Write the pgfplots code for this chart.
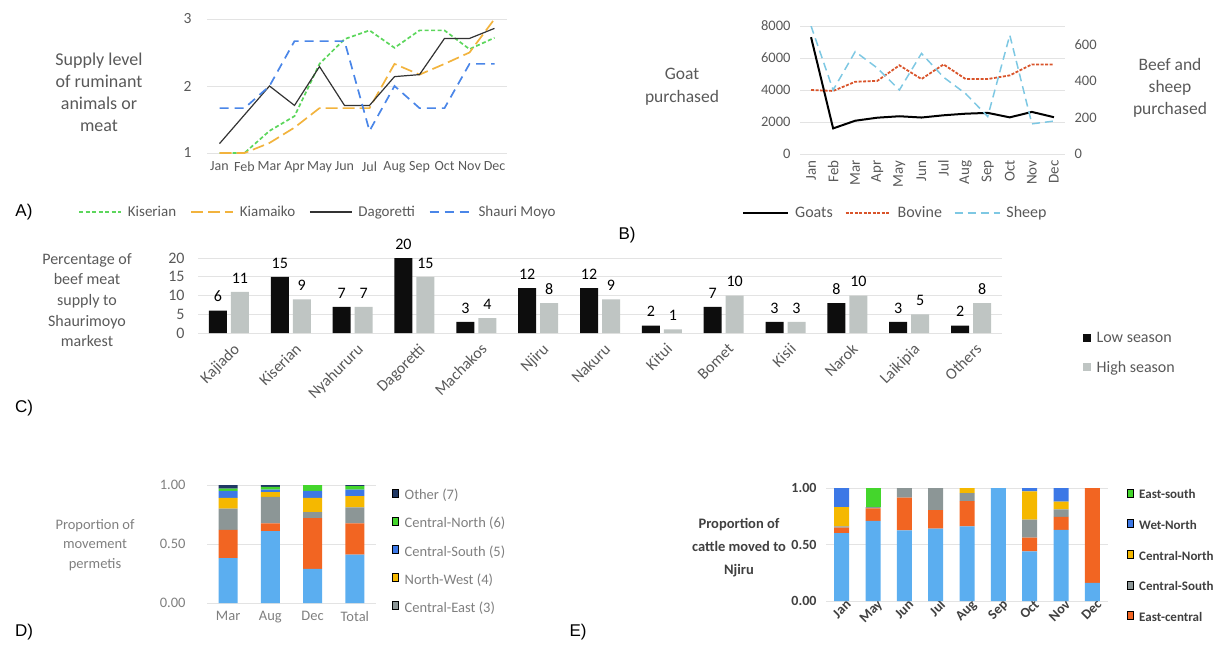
\documentclass[border=0pt]{standalone}
\usepackage{fontspec}
\setmainfont{Carlito}
\newfontfamily\arial{Liberation Sans}
\usepackage{pgfplots}
\pgfplotsset{compat=1.18}
\usepackage{pgfplotstable}

\definecolor{labc}{HTML}{595959}
\definecolor{gridc}{HTML}{E3E3E3}
\definecolor{kis}{HTML}{5CD65C}
\definecolor{kia}{HTML}{F2B33D}
\definecolor{dag}{HTML}{333333}
\definecolor{sha}{HTML}{4A86E8}
\definecolor{bov}{HTML}{D9542B}
\definecolor{shp}{HTML}{7EC8E3}
\definecolor{lowc}{HTML}{0D0D0D}
\definecolor{highc}{HTML}{BFC5C3}
\definecolor{c1}{HTML}{5BAEF0}
\definecolor{c2}{HTML}{F26522}
\definecolor{c3}{HTML}{8C9696}
\definecolor{c4}{HTML}{F5B800}
\definecolor{c5}{HTML}{3C78E6}
\definecolor{c6}{HTML}{44D62C}
\definecolor{c7}{HTML}{1F3864}
\definecolor{dtext}{HTML}{7F7F7F}
\definecolor{etext}{HTML}{404040}

% panel A: supply level by month
\pgfplotstableread{
m kis kia dag sha
0 1 1 1.14 1.67
1 1 1 1.57 1.67
2 1.33 1.15 2.0 2.0
3 1.55 1.38 1.71 2.67
4 2.33 1.67 2.29 2.67
5 2.7 1.67 1.71 2.67
6 2.83 1.67 1.71 1.33
7 2.57 2.33 2.14 2.0
8 2.83 2.17 2.17 1.67
9 2.83 2.33 2.71 1.67
10 2.55 2.5 2.71 2.33
11 2.72 3.0 2.86 2.33
}\tabA

% panel B: animals purchased
\pgfplotstableread{
m goat bov sheep
0 7300 350 700
1 1600 345 350
2 2080 395 560
3 2270 400 470
4 2360 485 350
5 2280 410 550
6 2420 490 420
7 2520 410 330
8 2570 410 205
9 2290 430 650
10 2630 490 165
11 2300 490 180
}\tabB

% panel C: beef supply by origin
\pgfplotstableread{
c low high
0 6 11
1 15 9
2 7 7
3 20 15
4 3 4
5 12 8
6 12 9
7 2 1
8 7 10
9 3 3
10 8 10
11 3 5
12 2 8
}\tabC

% panel D: movement permits
\pgfplotstableread{
x s1 s2 s3 s4 s5 s6 s7
0 0.38 0.24 0.18 0.09 0.06 0.02 0.03
1 0.61 0.065 0.225 0.04 0.02 0.025 0.015
2 0.29 0.43 0.05 0.12 0.06 0.05 0.0
3 0.41 0.265 0.135 0.095 0.055 0.03 0.01
}\tabD

% panel E: cattle moved to Njiru
\pgfplotstableread{
x s1 s2 s3 s4 s5 s6
0 0.60 0.05 0.01 0.17 0.17 0
1 0.71 0.11 0.01 0 0 0.17
2 0.625 0.29 0.085 0 0 0
3 0.64 0.165 0.195 0 0 0
4 0.66 0.225 0.07 0.045 0 0
5 1 0 0 0 0 0
6 0.44 0.12 0.16 0.25 0.03 0
7 0.63 0.115 0.065 0.07 0.12 0
8 0.16 0.84 0 0 0 0
}\tabE

\newcommand{\fs}[1]{\fontsize{#1}{#1}\selectfont}
\pgfplotsset{
  base/.style={scale only axis, anchor=south west,
    axis line style={draw=none}, major tick style={draw=none},
    ymajorgrids, grid style={draw=gridc, line width=0.8pt},
    tick label style={text=labc, font=\fs{14}},
    /pgf/number format/assume math mode=true,
    /pgf/number format/1000 sep={},
    legend style={draw=none, fill=none, inner sep=0pt, text=labc, font=\fs{16}},
    legend cell align=left},
  ybar legend/.style={legend image code/.code={\path[##1, draw=none] (0pt,-4pt) rectangle (8pt,4pt);}},
  prop/.style={/pgf/number format/fixed, /pgf/number format/fixed zerofill,
    /pgf/number format/precision=2},
}

\begin{document}
\begin{tikzpicture}
\useasboundingbox (0,0) rectangle (1217pt,-648pt);

% ---------------- A ----------------
\begin{axis}[base, at={(207pt,-153pt)}, width=300pt, height=134pt,
  legend image code/.code={\draw[#1] (0pt,0pt) -- (42pt,0pt);},
  xmin=-0.5, xmax=11.5, ymin=1, ymax=3, ytick={1,2,3},
  xtick={0,...,11}, xticklabels={Jan,Feb,Mar,Apr,May,Jun,Jul,Aug,Sep,Oct,Nov,Dec},
  tick label style={font=\fs{15.5}},
  xticklabel style={yshift=-5pt, font=\fs{14}}, yticklabel style={xshift=-12pt},
  legend columns=4,
  legend style={at={(-0.43,-0.44)}, anchor=west, font=\fs{15},
    /tikz/every odd column/.style={column sep=4pt},
    /tikz/every even column/.style={column sep=12pt}}]
\addplot[kis, line width=1.7pt, dash pattern=on 4pt off 2.5pt] table[x=m,y=kis] {\tabA};
\addlegendentry{Kiserian}
\addplot[kia, line width=1.7pt, dash pattern=on 12pt off 5pt] table[x=m,y=kia] {\tabA};
\addlegendentry{Kiamaiko}
\addplot[dag, line width=1.2pt] table[x=m,y=dag] {\tabA};
\addlegendentry{Dagoretti}
\addplot[sha, line width=1.7pt, dash pattern=on 9pt off 6pt] table[x=m,y=sha] {\tabA};
\addlegendentry{Shauri Moyo}
\end{axis}
\node[align=center, text=labc, font=\fontsize{18}{22}\selectfont] at (99pt,-92pt) {Supply level\\of ruminant\\animals or\\meat};
\node[font=\arial\fs{17}] at (24pt,-212pt) {A)};

% ---------------- B ----------------
\begin{axis}[base, at={(800pt,-154pt)}, width=265pt, height=128pt,
  xmin=-0.5, xmax=11.5, ymin=0, ymax=8000, ytick={0,2000,...,8000},
  xtick={0,...,11}, xticklabels={Jan,Feb,Mar,Apr,May,Jun,Jul,Aug,Sep,Oct,Nov,Dec},
  tick label style={font=\fs{14.5}},
  xticklabel style={rotate=90, anchor=east, xshift=-3pt, font=\fs{15}}, yticklabel style={xshift=-6pt}]
\addplot[black, line width=2pt] table[x=m,y=goat] {\tabB};
\end{axis}
\begin{axis}[base, at={(800pt,-154pt)}, width=265pt, height=128pt,
  legend image code/.code={\draw[#1] (0pt,0pt) -- (45pt,0pt);},
  xmin=-0.5, xmax=11.5, ymin=0, ymax=700, ytick={0,200,400,600},
  tick label style={font=\fs{14.5}},
  ymajorgrids=false, axis y line*=right, axis x line=none, yticklabel style={xshift=6pt},
  legend columns=3,
  legend style={at={(-0.219,-0.461)}, anchor=west, /tikz/every odd column/.style={column sep=4pt},
    /tikz/every even column/.style={column sep=10pt}}]
\addlegendimage{black, line width=2pt}
\addlegendentry{Goats}
\addplot[bov, line width=1.8pt, dash pattern=on 3pt off 1.5pt] table[x=m,y=bov] {\tabB};
\addlegendentry{Bovine}
\addplot[shp, line width=1.5pt, dash pattern=on 8pt off 5pt] table[x=m,y=sheep] {\tabB};
\addlegendentry{Sheep}
\end{axis}
\node[align=center, text=labc, font=\fontsize{17.5}{23}\selectfont] at (682pt,-87pt) {Goat\\purchased};
\node[align=center, text=labc, font=\fontsize{17.5}{22}\selectfont] at (1170pt,-88pt) {Beef and\\sheep\\purchased};
\node[font=\arial\fs{17}] at (627pt,-235pt) {B)};

% ---------------- C ----------------
\begin{axis}[base, at={(198pt,-333pt)}, width=804pt, height=75pt,
  ybar=4pt, bar width=18pt, xmin=-0.5, xmax=12.5, ymin=0, ymax=20, ytick={0,5,...,20},
  xtick={0,...,12},
  xticklabels={Kajiado,Kiserian,Nyahururu,Dagoretti,Machakos,Njiru,Nakuru,Kitui,Bomet,Kisii,Narok,Laikipia,Others},
  tick label style={font=\fs{16}},
  xticklabel style={rotate=45, anchor=north east, inner sep=1pt, xshift=0pt, yshift=-5pt, font=\fs{16}},
  yticklabel style={xshift=-10pt},
  nodes near coords, every node near coord/.append style={font=\fs{16}, text=black, yshift=5pt},
  legend style={at={(1.10,0.04)}, anchor=north west,
    /tikz/every odd column/.style={column sep=4pt}, row sep=13pt}]
\addplot[fill=lowc, draw=none] table[x=c,y=low] {\tabC};
\addlegendentry{Low season}
\addplot[fill=highc, draw=none] table[x=c,y=high] {\tabC};
\addlegendentry{High season}
\end{axis}
\node[align=center, text=labc, font=\fontsize{16}{20.7}\selectfont] at (87pt,-300pt) {Percentage of\\beef meat\\supply to\\Shaurimoyo\\markest};
\node[font=\arial\fs{17}] at (24pt,-408pt) {C)};

% ---------------- D ----------------
\begin{axis}[base, prop, at={(207pt,-603pt)}, width=169pt, height=118pt,
  ybar stacked, bar width=19pt, xmin=-0.5, xmax=3.5, ymin=0, ymax=1, ytick={0,0.5,1},
  xtick={0,...,3}, xticklabels={Mar,Aug,Dec,Total},
  tick label style={font=\fs{14.5}, text=dtext},
  xticklabel style={yshift=-5pt}, yticklabel style={xshift=-18pt},
  reverse legend,
  legend style={at={(1.095,0.983)}, anchor=north west, font=\fs{14.5}, text=dtext,
    /tikz/every odd column/.style={column sep=4pt}, row sep=12pt}]
\addplot[fill=c1, draw=none, forget plot] table[x=x,y=s1] {\tabD};
\addplot[fill=c2, draw=none, forget plot] table[x=x,y=s2] {\tabD};
\addplot[fill=c3, draw=none] table[x=x,y=s3] {\tabD};
\addlegendentry{Central-East (3)}
\addplot[fill=c4, draw=none] table[x=x,y=s4] {\tabD};
\addlegendentry{North-West (4)}
\addplot[fill=c5, draw=none] table[x=x,y=s5] {\tabD};
\addlegendentry{Central-South (5)}
\addplot[fill=c6, draw=none] table[x=x,y=s6] {\tabD};
\addlegendentry{Central-North (6)}
\addplot[fill=c7, draw=none] table[x=x,y=s7] {\tabD};
\addlegendentry{Other (7)}
\end{axis}
\node[align=center, text=dtext, font=\fontsize{14.5}{19.5}\selectfont] at (95pt,-545pt) {Proportion of\\movement\\permetis};
\node[font=\arial\fs{17}] at (24pt,-632pt) {D)};

% ---------------- E ----------------
\begin{axis}[base, prop, at={(826pt,-601pt)}, width=282pt, height=113pt,
  ybar stacked, bar width=15pt, xmin=-0.5, xmax=8.5, ymin=0, ymax=1, ytick={0,0.5,1},
  xtick={0,...,8}, xticklabels={Jan,May,Jun,Jul,Aug,Sep,Oct,Nov,Dec},
  tick label style={font=\bfseries\fs{14}, text=etext},
  xticklabel style={rotate=45, anchor=north east, inner sep=1pt, xshift=5pt},
  yticklabel style={xshift=-6pt},
  reverse legend,
  legend style={at={(1.066,1.005)}, anchor=north west, font=\bfseries\fs{13}, text=etext,
    /tikz/every odd column/.style={column sep=4pt}, row sep=16pt}]
\addplot[fill=c1, draw=none, forget plot] table[x=x,y=s1] {\tabE};
\addplot[fill=c2, draw=none] table[x=x,y=s2] {\tabE};
\addlegendentry{East-central}
\addplot[fill=c3, draw=none] table[x=x,y=s3] {\tabE};
\addlegendentry{Central-South}
\addplot[fill=c4, draw=none] table[x=x,y=s4] {\tabE};
\addlegendentry{Central-North}
\addplot[fill=c5, draw=none] table[x=x,y=s5] {\tabE};
\addlegendentry{Wet-North}
\addplot[fill=c6, draw=none] table[x=x,y=s6] {\tabE};
\addlegendentry{East-south}
\end{axis}
\node[align=center, text=etext, font=\bfseries\fontsize{14.5}{23}\selectfont] at (739pt,-548pt) {Proportion of\\cattle moved to\\Njiru};
\node[font=\arial\fs{17}] at (578pt,-632pt) {E)};
\end{tikzpicture}
\end{document}
